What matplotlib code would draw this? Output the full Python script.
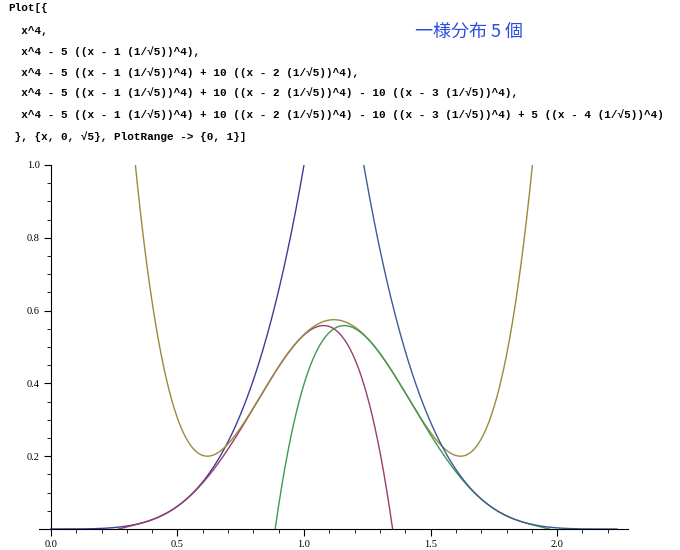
import numpy as np
import matplotlib
matplotlib.use("Agg")
import matplotlib.pyplot as plt
from matplotlib.ticker import MultipleLocator

# data: coefficients of the five cumulative sums, shifts k/sqrt(5)
coeffs = [1, -5, 10, -10, 5]
shift_index = [0, 1, 2, 3, 4]
colors = ["#3d3d99", "#993d71", "#998b3d", "#3d9954", "#3d5a99"]
x_max = np.sqrt(5)
code_lines = [
    "Plot[{",
    "  x^4,",
    "  x^4 - 5 ((x - 1 (1/\u221a5))^4),",
    "  x^4 - 5 ((x - 1 (1/\u221a5))^4) + 10 ((x - 2 (1/\u221a5))^4),",
    "  x^4 - 5 ((x - 1 (1/\u221a5))^4) + 10 ((x - 2 (1/\u221a5))^4) - 10 ((x - 3 (1/\u221a5))^4),",
    "  x^4 - 5 ((x - 1 (1/\u221a5))^4) + 10 ((x - 2 (1/\u221a5))^4) - 10 ((x - 3 (1/\u221a5))^4) + 5 ((x - 4 (1/\u221a5))^4)",
    " }, {x, 0, \u221a5}, PlotRange -> {0, 1}]",
]
code_y = [8, 31, 52, 73, 93, 115, 137]

fig = plt.figure(figsize=(6.8, 5.5), dpi=100)
ax = fig.add_axes([39/680, 1-529/550, 589/680, (529-165)/550])
x = np.linspace(0, x_max, 3000)
y = np.zeros_like(x)
for c, k, col in zip(coeffs, shift_index, colors):
    y = y + c * (x - k / np.sqrt(5)) ** 4
    ax.plot(x, y, color=col, lw=1.0)
ax.set_xlim(-0.047, 2.28)
ax.set_ylim(0, 1.0)
ax.spines["top"].set_visible(False)
ax.spines["right"].set_visible(False)
ax.spines["left"].set_position(("data", 0))
ax.spines["left"].set_bounds(0, 1.0)
ax.xaxis.set_minor_locator(MultipleLocator(0.1))
ax.yaxis.set_minor_locator(MultipleLocator(0.05))
ax.set_xticks([0, 0.5, 1.0, 1.5, 2.0])
ax.set_yticks([0.2, 0.4, 0.6, 0.8, 1.0])
ax.set_xticklabels(["0.0", "0.5", "1.0", "1.5", "2.0"])
for lab in ax.get_xticklabels() + ax.get_yticklabels():
    lab.set_fontfamily("Liberation Serif")
    lab.set_fontsize(7.5)
ax.tick_params(which="major", length=5, width=0.8, pad=3)
ax.tick_params(which="minor", length=3, width=0.6)
ax.set_facecolor("none")

for line, yy in zip(code_lines, code_y):
    fig.text(8/680, 1-yy/550, line, family="Liberation Mono", fontsize=7.9,
             fontweight="bold", va="center", ha="left")
fig.text(415/680, 1-32/550, "一様分布 5 個", family=["Noto Sans CJK JP", "DejaVu Sans"],
         fontsize=13, color="#2a4de0", va="center", ha="left")
fig.savefig("out.png", dpi=100)
